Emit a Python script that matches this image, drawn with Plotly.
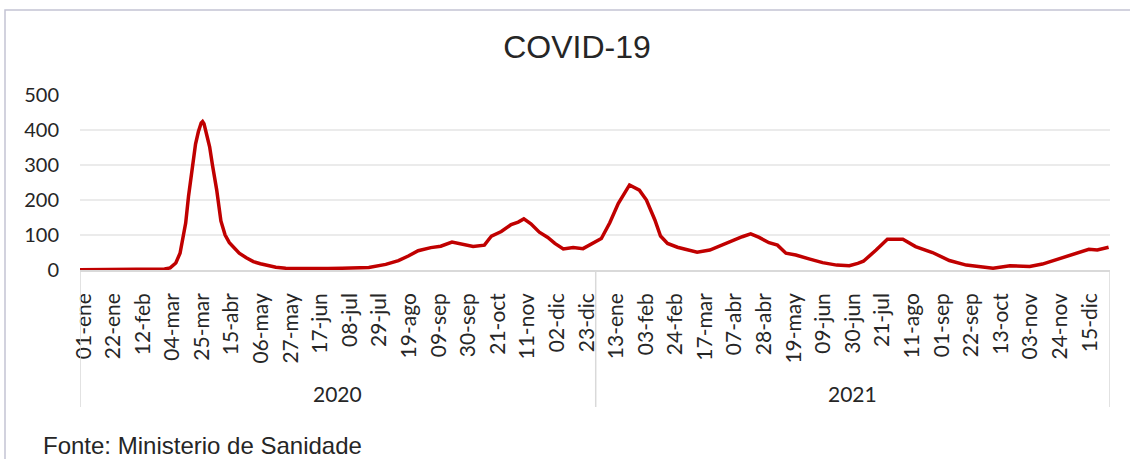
import plotly.graph_objects as go

# ---- data ----
dates = [
    "2020-01-01", "2020-01-15", "2020-02-01", "2020-02-15", "2020-03-01", "2020-03-05",
    "2020-03-09", "2020-03-12", "2020-03-16", "2020-03-18", "2020-03-20", "2020-03-23",
    "2020-03-25", "2020-03-27", "2020-03-28", "2020-03-29", "2020-03-31", "2020-04-02",
    "2020-04-04", "2020-04-07", "2020-04-10", "2020-04-13", "2020-04-16", "2020-04-20",
    "2020-04-23", "2020-04-28", "2020-05-03", "2020-05-08", "2020-05-12", "2020-05-19",
    "2020-05-26", "2020-06-05", "2020-06-15", "2020-06-25", "2020-07-05", "2020-07-15",
    "2020-07-24", "2020-08-05", "2020-08-14", "2020-08-21", "2020-08-28", "2020-09-06",
    "2020-09-13", "2020-09-21", "2020-09-28", "2020-10-06", "2020-10-14", "2020-10-19",
    "2020-10-26", "2020-11-02", "2020-11-07", "2020-11-11", "2020-11-16", "2020-11-22",
    "2020-11-28", "2020-12-03", "2020-12-09", "2020-12-16", "2020-12-23", "2020-12-30",
    "2021-01-05", "2021-01-11", "2021-01-17", "2021-01-25", "2021-02-01", "2021-02-06",
    "2021-02-12", "2021-02-16", "2021-02-21", "2021-02-28", "2021-03-07", "2021-03-14",
    "2021-03-23", "2021-03-30", "2021-04-06", "2021-04-15", "2021-04-21", "2021-04-27",
    "2021-05-04", "2021-05-10", "2021-05-16", "2021-05-23", "2021-06-02", "2021-06-11",
    "2021-06-21", "2021-06-30", "2021-07-06", "2021-07-10", "2021-07-19", "2021-07-27",
    "2021-08-07", "2021-08-16", "2021-08-28", "2021-09-09", "2021-09-21", "2021-10-03",
    "2021-10-10", "2021-10-22", "2021-11-05", "2021-11-14", "2021-11-24", "2021-12-05",
    "2021-12-17", "2021-12-23", "2021-12-31",
]
values = [
    1, 1, 1, 2, 3, 6,
    20, 48, 134, 210, 270, 360,
    395, 420, 424, 418, 385, 352,
    300, 229, 140, 100, 78, 60,
    48, 35, 24, 18, 14, 8,
    5, 4, 3, 4, 5, 6,
    7, 16, 27, 40, 55, 64,
    68, 80, 74, 67, 71, 97,
    110, 130, 137, 146, 132, 108,
    93, 76, 60, 64, 61, 78,
    90, 135, 190, 243, 228, 200,
    143, 97, 76, 65, 59, 51,
    57, 69, 81, 95, 103, 93,
    78, 71, 48, 43, 31, 21,
    14, 12, 19, 25, 57, 88,
    88, 67, 50, 27, 14, 7,
    5, 12, 10, 17, 29, 43,
    59, 57, 65,
]

years = ["2020", "2021"]
tick_labels_2020 = ["01-ene", "22-ene", "12-feb", "04-mar", "25-mar", "15-abr", "06-may",
                    "27-may", "17-jun", "08-jul", "29-jul", "19-ago", "09-sep", "30-sep",
                    "21-oct", "11-nov", "02-dic", "23-dic"]
tick_labels_2021 = ["13-ene", "03-feb", "24-feb", "17-mar", "07-abr", "28-abr", "19-may",
                    "09-jun", "30-jun", "21-jul", "11-ago", "01-sep", "22-sep", "13-oct",
                    "03-nov", "24-nov", "15-dic"]
y_ticks = [0, 100, 200, 300, 400, 500]

title_text = "COVID-19"
source_text = "Fonte: Ministerio de Sanidade"

# ---- build ----
month_num = {"ene": 1, "feb": 2, "mar": 3, "abr": 4, "may": 5, "jun": 6,
             "jul": 7, "ago": 8, "sep": 9, "oct": 10, "nov": 11, "dic": 12}


def label_to_date(lbl, year):
    d, m = lbl.split("-")
    return f"{year}-{month_num[m]:02d}-{d} 12:00"


tickvals = [label_to_date(l, years[0]) for l in tick_labels_2020] + \
           [label_to_date(l, years[1]) for l in tick_labels_2021]
ticktext = tick_labels_2020 + tick_labels_2021

W, H = 1130, 459
ML, MR, MT, MB = 80, 20, 95, 189
PW, PH = W - ML - MR, H - MT - MB


def px_x(x):
    return (x - ML) / PW


def px_y(y):
    return (H - MB - y) / PH


RED = "#C00000"
GRID = "#ebebeb"
AXIS = "#d9d9d9"
TXT = "#262626"
TICKFONT = "Lato, Calibri, sans-serif"

fig = go.Figure()
fig.add_trace(go.Scatter(x=dates, y=values, mode="lines",
                         line=dict(color=RED, width=3.5), hoverinfo="x+y"))

fig.update_layout(
    width=W, height=H,
    margin=dict(l=ML, r=MR, t=MT, b=MB),
    paper_bgcolor="white", plot_bgcolor="white",
    showlegend=False,
    title=dict(text=title_text, x=577 / W, xref="container", xanchor="center",
               y=1 - 47 / H, yref="container", yanchor="middle",
               font=dict(family="Liberation Sans, Arial", size=32, color=TXT)),
)

fig.update_xaxes(
    type="date", range=["2020-01-01", "2022-01-01"],
    tickmode="array", tickvals=tickvals, ticktext=ticktext, tickangle=-90,
    ticks="", showgrid=False, zeroline=False,
    showline=True, linecolor=AXIS, linewidth=1.5,
    tickfont=dict(family=TICKFONT, size=21, color=TXT),
    ticklabelstandoff=13, ticklabelshift=3,
)
fig.update_yaxes(
    range=[0, 500], tickvals=y_ticks, ticks="",
    showgrid=True, gridcolor=GRID, gridwidth=1.5,
    zeroline=False, showline=False,
    tickfont=dict(family=TICKFONT, size=20, color=TXT),
    ticklabelstandoff=20,
)

# year group separators
for d in ["2020-01-01", "2021-01-01", "2022-01-01"]:
    fig.add_shape(type="line", xref="x", yref="paper", x0=d, x1=d,
                  y0=0, y1=px_y(407), line=dict(color=AXIS, width=1.5))

# year labels
year_mid = ["2020-07-01 12:00", "2021-07-02"]
for yr, xm in zip(years, year_mid):
    fig.add_annotation(x=xm, xref="x", y=px_y(393), yref="paper",
                       text=yr, showarrow=False, xanchor="center", yanchor="middle",
                       font=dict(family=TICKFONT, size=21, color=TXT))

# source
fig.add_annotation(x=px_x(41), xref="paper", y=px_y(445), yref="paper", text=source_text,
                   showarrow=False, xanchor="left", yanchor="middle",
                   font=dict(family="Liberation Sans, Arial", size=24, color=TXT))

# outer chart border
fig.add_shape(type="rect", xref="paper", yref="paper",
              x0=px_x(5), x1=px_x(1140), y0=px_y(470), y1=px_y(10),
              line=dict(color="#c4c4d4", width=1.5), fillcolor="rgba(0,0,0,0)",
              layer="below")

fig.write_html("out.html", config={"displayModeBar": False},
               post_script="document.body.style.margin='0';document.body.style.overflow='hidden';")
